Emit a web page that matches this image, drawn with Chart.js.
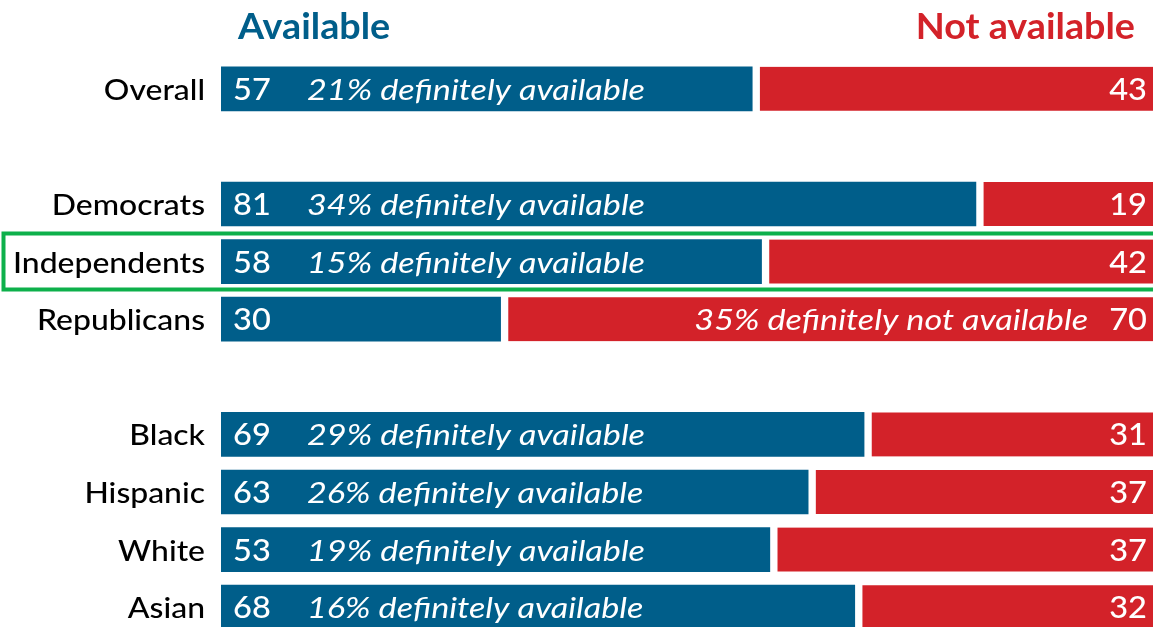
<!DOCTYPE html>
<html>
<head>
<meta charset="utf-8">
<script src="https://cdn.jsdelivr.net/npm/chart.js@4/dist/chart.umd.min.js"></script>
<style>
html,body{margin:0;padding:0;background:#fff;overflow:hidden;}
#wrap{width:1153px;height:640px;position:relative;}
</style>
</head>
<body>
<div id="wrap"><canvas id="c" width="1153" height="640"></canvas></div>
<script>
// ---- data ----
const categories = ['Overall', '', 'Democrats', 'Independents', 'Republicans', '', 'Black', 'Hispanic', 'White', 'Asian'];
const available = [57, null, 81, 58, 30, null, 69, 63, 53, 68];
const notAvailable = [43, null, 19, 42, 70, null, 31, 37, 37, 32];
const definitelyAvailable = [21, null, 34, 15, null, null, 29, 26, 19, 16];
const definitelyNotAvailable = [null, null, null, null, 35, null, null, null, null, null];
const seriesNames = ['Available', 'Not available'];
const highlightCategory = 'Independents';

// ---- style ----
const BLUE = '#005e8a';
const RED = '#d32229';
const GREEN = '#0db04b';
const FONT = 'Lato, "Open Sans", sans-serif';

// bar lengths as shares of each row's total
const availShare = available.map((v, i) => v == null ? null : v / (v + notAvailable[i]) * 100);
const notShare = notAvailable.map((v, i) => v == null ? null : v / (available[i] + v) * 100);

// draw text stretched horizontally (to approximate a wider typeface)
function txt(ctx, s, px, py, align, sx) {
  ctx.save();
  ctx.translate(px, py);
  ctx.scale(sx, 1);
  ctx.textAlign = align;
  ctx.fillText(s, 0, 0);
  ctx.restore();
}

const labelPlugin = {
  id: 'labelPlugin',
  afterDraw(chart) {
    const { ctx, scales: { x, y } } = chart;
    ctx.save();
    ctx.textBaseline = 'alphabetic';
    // headers
    ctx.font = '700 36px ' + FONT;
    ctx.fillStyle = BLUE;
    txt(ctx, seriesNames[0], x.left + 17, 39, 'left', 1.048);
    ctx.fillStyle = RED;
    txt(ctx, seriesNames[1], x.right - 18, 39, 'right', 1.048);

    categories.forEach((cat, i) => {
      if (!cat) return;
      const yc = y.getPixelForValue(i);
      const base = yc + 11;
      // category label
      ctx.font = '500 29px ' + FONT;
      ctx.fillStyle = '#000';
      txt(ctx, cat, x.left - 16, base, 'right', 1.1);
      // values
      ctx.fillStyle = '#fff';
      ctx.font = '500 31px ' + FONT;
      txt(ctx, String(available[i]), x.left + 12, base, 'left', 1.05);
      txt(ctx, String(notAvailable[i]), x.right - 6, base, 'right', 1.05);
      // notes
      ctx.font = 'italic 400 29px ' + FONT;
      if (definitelyAvailable[i] != null) {
        txt(ctx, definitelyAvailable[i] + '% definitely available', x.left + 86, base, 'left', 1.18);
      }
      if (definitelyNotAvailable[i] != null) {
        txt(ctx, definitelyNotAvailable[i] + '% definitely not available', x.right - 65, base, 'right', 1.18);
      }
    });

    // highlight box
    const hi = categories.indexOf(highlightCategory);
    if (hi >= 0) {
      const yc = y.getPixelForValue(hi);
      ctx.strokeStyle = GREEN;
      ctx.lineWidth = 4;
      ctx.beginPath();
      ctx.moveTo(x.right + 10, yc - 28);
      ctx.lineTo(3.5, yc - 28);
      ctx.lineTo(3.5, yc + 28);
      ctx.lineTo(x.right + 10, yc + 28);
      ctx.stroke();
    }
    ctx.restore();
  }
};

new Chart(document.getElementById('c'), {
  type: 'bar',
  data: {
    labels: categories,
    datasets: [
      { label: seriesNames[0], data: availShare, backgroundColor: BLUE, borderWidth: 0, barThickness: 44 },
      { label: seriesNames[1], data: notShare, backgroundColor: RED, borderColor: '#ffffff',
        borderWidth: { left: 8, right: 0, top: 0, bottom: 0 }, borderSkipped: false, barThickness: 44 }
    ]
  },
  options: {
    indexAxis: 'y',
    responsive: false,
    animation: false,
    events: [],
    layout: { padding: { left: 221, right: 0, top: 60, bottom: 4 } },
    scales: {
      x: { stacked: true, min: 0, max: 100, display: false },
      y: { stacked: true, display: false }
    },
    plugins: { legend: { display: false }, tooltip: { enabled: false } }
  },
  plugins: [labelPlugin]
});
</script>
</body>
</html>
